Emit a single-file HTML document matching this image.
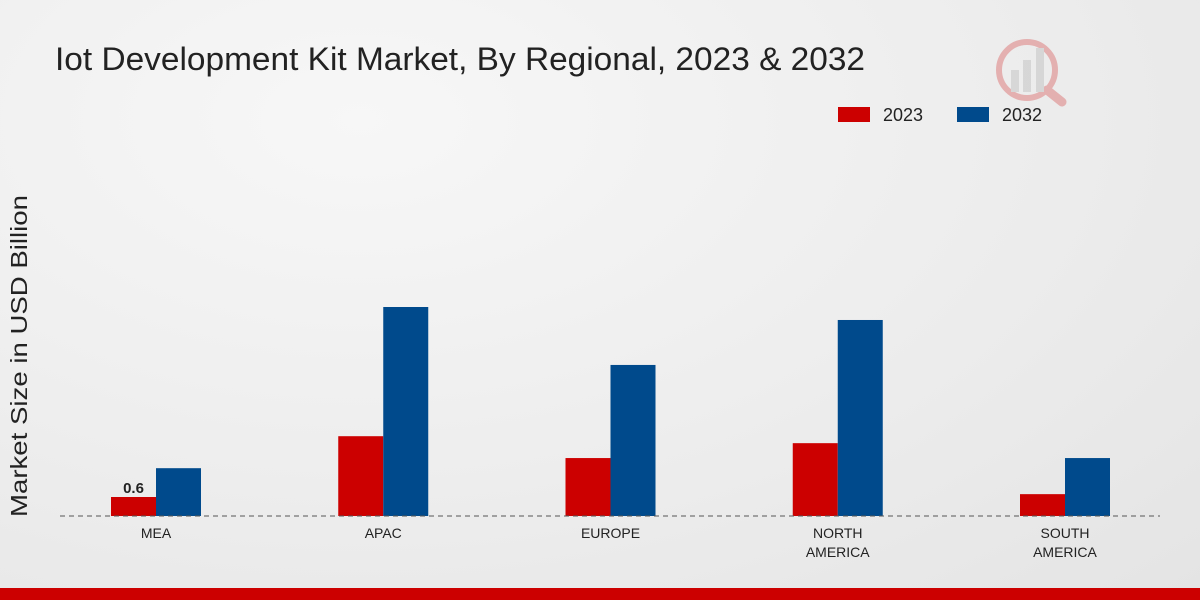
<!DOCTYPE html>
<html><head><meta charset="utf-8"><style>
html,body{margin:0;padding:0;width:1200px;height:600px;overflow:hidden}
body{background:radial-gradient(ellipse at 30% 20%,#f7f7f7 0%,#ececec 60%,#e4e4e4 100%);font-family:"Liberation Sans","DejaVu Sans",sans-serif}
</style></head><body>
<svg width="1200" height="600">
<text x="55" y="70" font-size="32" fill="#222" textLength="810" lengthAdjust="spacingAndGlyphs">Iot Development Kit Market, By Regional, 2023 &amp; 2032</text>
<g opacity="0.25">
<circle cx="1027" cy="70" r="28" fill="none" stroke="#c00" stroke-width="6"/>
<line x1="1047" y1="90" x2="1062" y2="102" stroke="#c00" stroke-width="9" stroke-linecap="round"/>
<rect x="1011" y="70" width="8" height="22" fill="#999"/><rect x="1023" y="60" width="8" height="32" fill="#999"/><rect x="1036" y="48" width="8" height="44" fill="#999"/>
</g>
<g>
<rect x="838" y="107" width="32" height="15" fill="#cc0000"/>
<text x="883" y="121" font-size="18" fill="#222">2023</text>
<rect x="957" y="107" width="32" height="15" fill="#004a8c"/>
<text x="1002" y="121" font-size="18" fill="#222">2032</text>
</g>
<text transform="translate(27,356) rotate(-90)" text-anchor="middle" font-size="23" fill="#222" textLength="322" lengthAdjust="spacingAndGlyphs">Market Size in USD Billion</text>
<g id="bars"></g>
<line x1="60" y1="516" x2="1160" y2="516" stroke="#555" stroke-dasharray="5,4"/>
<g id="labels"></g>
<rect x="0" y="588" width="1200" height="12" fill="#cc0000"/>
</svg>
<script>
const categories=[["MEA"],["APAC"],["EUROPE"],["NORTH","AMERICA"],["SOUTH","AMERICA"]];
const values2023=[0.6,2.52,1.83,2.3,0.69];
const values2032=[1.51,6.6,4.77,6.19,1.83];
const ns="http://www.w3.org/2000/svg";
const base=516,scale=19/0.6,x0=156,step=227.25,bw=45;
const y=v=>base-v*scale;
const g=document.getElementById('bars'),lg=document.getElementById('labels');
function mk(t,a){const e=document.createElementNS(ns,t);for(const k in a)e.setAttribute(k,a[k]);return e;}
categories.forEach((c,i)=>{
 const cx=x0+i*step;
 const r=mk('rect',{x:cx-bw,y:y(values2023[i]),width:bw,height:values2023[i]*scale,fill:'#cc0000'});
 
 
 g.appendChild(r);
 const b=mk('rect',{x:cx,y:y(values2032[i]),width:bw,height:values2032[i]*scale,fill:'#004a8c'});
 
 
 g.appendChild(b);
 c.forEach((line,j)=>{
  const t=mk('text',{x:cx,y:538+j*19,'text-anchor':'middle','font-size':14,fill:'#222'});
  t.textContent=line;
  
  
  lg.appendChild(t);
 });
});
const vl=mk('text',{x:x0-bw/2,y:y(values2023[0])-4,'text-anchor':'middle','font-size':15,'font-weight':'bold',fill:'#222'});
vl.textContent=values2023[0];


lg.appendChild(vl);
</script>
</body></html>
